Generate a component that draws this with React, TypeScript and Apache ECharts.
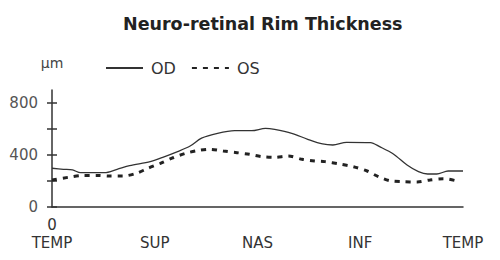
import React, { useEffect, useRef } from "react";
import * as echarts from "echarts";

const xTickLabels = ["TEMP", "SUP", "NAS", "INF", "TEMP"];
const yTickValues = [0, 200, 400, 600, 800];
const yLabelValues = [0, 400, 800];

const odAngles = [0, 10, 18, 25, 46, 57, 68, 86, 97, 110, 121, 131, 145, 160, 175, 187, 195, 210, 224, 237, 246, 258, 279, 287, 299, 311, 321, 329, 337, 347, 360];
const odValues = [298, 290, 285, 264, 264, 290, 318, 349, 382, 426, 469, 530, 567, 587, 587, 605, 597, 567, 521, 485, 477, 497, 495, 464, 408, 323, 272, 254, 254, 277, 277];

const osAngles = [0, 14, 27, 39, 51, 62, 74, 84, 95, 106, 117, 127, 138, 150, 162, 173, 184, 195, 207, 219, 230, 239, 252, 264, 276, 286, 296, 307, 320, 331, 343, 355];
const osValues = [208, 228, 243, 243, 238, 238, 259, 298, 336, 379, 413, 433, 444, 431, 418, 405, 387, 382, 392, 367, 354, 349, 331, 310, 277, 233, 202, 195, 192, 208, 218, 200];

export default function App() {
  const ref = useRef<HTMLDivElement>(null);
  useEffect(() => {
    if (!ref.current) return;
    const chart = echarts.init(ref.current, null, { renderer: "svg" });
    const font = "DejaVu Sans";
    chart.setOption({
      animation: false,
      backgroundColor: "#ffffff",
      title: {
        text: "Neuro-retinal Rim Thickness",
        left: 118,
        top: 10,
        textStyle: { fontFamily: font, fontSize: 17.5, fontWeight: "bold", color: "#222" },
      },
      legend: {
        left: 105,
        top: 60,
        padding: 0,
        itemWidth: 37,
        itemHeight: 12,
        itemGap: 15,
        data: ["OD", "OS"],
        itemStyle: { opacity: 0, borderWidth: 0 },
        textStyle: { fontFamily: font, fontSize: 16, color: "#333", padding: [0, 0, 0, 3] },
      },
      grid: { left: 52, right: 37, top: 90, bottom: 53 },
      xAxis: {
        type: "value",
        min: 0,
        max: 360,
        interval: 90,
        splitLine: { show: false },
        axisTick: { show: false },
        axisLine: { lineStyle: { color: "#333", width: 1.5 } },
        axisLabel: {
          margin: 9,
          fontFamily: font,
          fontSize: 15,
          color: "#333",
          lineHeight: 18,
          showMinLabel: true,
          showMaxLabel: true,
          formatter: (v: number) => {
            const i = Math.round(v / 90);
            return i === 0 ? "0\n" + xTickLabels[0] : "\n" + xTickLabels[i];
          },
        },
      },
      yAxis: [
        {
          type: "value",
          min: 0,
          max: 900,
          interval: 200,
          name: "µm",
          nameLocation: "end",
          nameGap: 27,
          nameTextStyle: { fontFamily: font, fontSize: 14, color: "#444", verticalAlign: "middle", align: "center" },
          splitLine: { show: false },
          axisLine: { show: true, lineStyle: { color: "#333", width: 1.5 } },
          axisTick: { show: true, length: 5, inside: false, customValues: yTickValues, lineStyle: { color: "#333", width: 1.5 } },
          axisLabel: {
            customValues: yLabelValues,
            margin: 14,
            fontFamily: font,
            fontSize: 15,
            color: "#555",
            formatter: (v: number) => (yLabelValues.indexOf(v) >= 0 ? String(v) : ""),
          },
        },
        {
          type: "value",
          position: "left",
          min: 0,
          max: 900,
          interval: 200,
          splitLine: { show: false },
          axisLine: { show: false },
          axisTick: { show: true, length: 5, inside: true, customValues: yTickValues, lineStyle: { color: "#333", width: 1.5 } },
          axisLabel: { show: false },
        },
      ],
      series: [
        {
          name: "OD",
          type: "line",
          symbol: "none",
          smooth: 0.3,
          data: odAngles.map((a, i) => [a, odValues[i]]),
          lineStyle: { color: "#333", width: 1.3, type: "solid" },
          itemStyle: { color: "#333" },
        },
        {
          name: "OS",
          type: "line",
          symbol: "none",
          smooth: 0.3,
          data: osAngles.map((a, i) => [a, osValues[i]]),
          lineStyle: { color: "#222", width: 3, type: [5, 6] },
          itemStyle: { color: "#222" },
        },
      ],
    });
    return () => chart.dispose();
  }, []);
  return (
    <div
      ref={ref}
      style={{ position: "fixed", left: 0, top: 0, width: 500, height: 260, background: "#fff" }}
    />
  );
}
